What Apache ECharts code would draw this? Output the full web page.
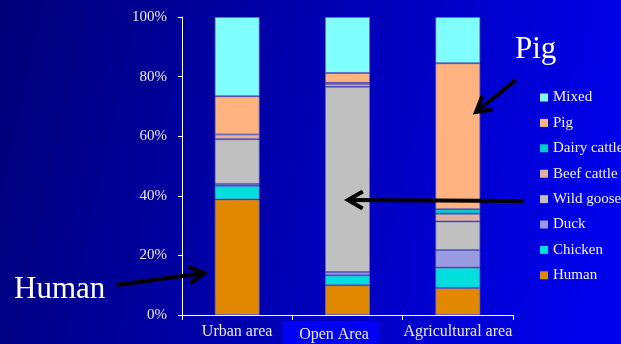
<!DOCTYPE html>
<html>
<head>
<meta charset="utf-8">
<script src="https://cdn.jsdelivr.net/npm/echarts@6/dist/echarts.min.js"></script>
<style>html,body{margin:0;padding:0;}#c{width:621px;height:344px;}</style>
</head>
<body>
<div id="c"></div>
<script>
var categories = ['Urban area', 'Open Area', 'Agricultural area'];
var yTicks = [0, 20, 40, 60, 80, 100];
var human = [38.8, 10.0, 9.1];
var chicken = [4.6, 3.3, 6.8];
var duck = [0.6, 1.1, 5.9];
var wildGoose = [15.0, 62.2, 9.6];
var beefCattle = [1.6, 1.0, 2.6];
var dairyCattle = [0.0, 0.3, 1.5];
var pig = [12.8, 3.3, 49.0];
var mixed = [26.6, 18.8, 15.5];

var seriesNames = ['Human', 'Chicken', 'Duck', 'Wild goose', 'Beef cattle', 'Dairy cattle', 'Pig', 'Mixed'];
var seriesData = [human, chicken, duck, wildGoose, beefCattle, dairyCattle, pig, mixed];
var seriesColors = ['#e08800', '#00dede', '#9a9ae0', '#c0c0c0', '#e3b09b', '#00cccc', '#ffb380', '#80ffff'];

var FONT = '"Liberation Serif", "Times New Roman", serif';
var TXT = '#e8e8f4';

function arrow(tail, tip, len, ang) {
  var dx = tail[0] - tip[0], dy = tail[1] - tip[1];
  var d = Math.sqrt(dx * dx + dy * dy);
  dx /= d; dy /= d;
  var a = ang * Math.PI / 180;
  function rot(s) {
    var c = Math.cos(s * a), n = Math.sin(s * a);
    return [tip[0] + len * (dx * c - dy * n), tip[1] + len * (dx * n + dy * c)];
  }
  var st = {stroke: '#000', lineWidth: 4, fill: null, lineCap: 'butt', lineJoin: 'miter'};
  return [
    {type: 'polyline', z: 100, shape: {points: [tail, tip]}, style: st},
    {type: 'polyline', z: 100, shape: {points: [rot(1), tip, rot(-1)]}, style: st}
  ];
}

var chart = echarts.init(document.getElementById('c'));
var series = seriesNames.map(function (n, i) {
  return {
    name: n, type: 'bar', stack: 'all', data: seriesData[i], barWidth: 45,
    itemStyle: {color: seriesColors[i], borderColor: 'rgba(110,110,190,0.7)', borderWidth: 1}
  };
});

var graphics = [
  {type: 'rect', z: -1, shape: {x: 283, y: 321, width: 96, height: 23}, style: {fill: '#0000f4'}},
  {type: 'rect', z: -1, shape: {x: 379, y: 321, width: 16, height: 23}, style: {fill: '#0000c6'}},
  {type: 'text', z: 100, x: 515, y: 50, style: {text: 'Pig', font: '31px ' + FONT, fill: '#ffffff', verticalAlign: 'middle'}},
  {type: 'text', z: 100, x: 14, y: 290, style: {text: 'Human', font: '31px ' + FONT, fill: '#ffffff', verticalAlign: 'middle'}}
].concat(arrow([516, 80], [476, 112], 17, 30))
 .concat(arrow([524, 201], [348, 200], 17, 30))
 .concat(arrow([117, 285], [204, 273], 17, 30));

chart.setOption({
  animation: false,
  backgroundColor: {
    type: 'linear', x: 0, y: 0, x2: 1, y2: 0.4,
    colorStops: [{offset: 0, color: '#000078'}, {offset: 1, color: '#0000ea'}]
  },
  grid: {left: 182, right: 108, top: 17, bottom: 29},
  legend: {
    orient: 'vertical', left: 535, top: 85,
    data: seriesNames.slice().reverse(),
    icon: 'rect', itemWidth: 8, itemHeight: 8, itemGap: 10.4, itemTextGap: 4,
    itemStyle: {borderWidth: 0},
    textStyle: {color: '#f0f0ff', fontFamily: FONT, fontSize: 15}
  },
  xAxis: {
    type: 'category', data: categories,
    axisLine: {lineStyle: {color: '#ffffff', width: 1}},
    axisTick: {show: true, length: 5, lineStyle: {color: '#ffffff'}},
    axisLabel: {
      interval: 0, hideOverlap: false,
      color: TXT, fontFamily: FONT, fontSize: 16, margin: 9,
      formatter: function (v) { return v === 'Open Area' ? '{o|' + v + '}' : v; },
      rich: {o: {color: TXT, fontFamily: FONT, fontSize: 16, padding: [3, 27, 0, 0]}}
    }
  },
  yAxis: {
    type: 'value', min: yTicks[0], max: yTicks[yTicks.length - 1], interval: 20,
    axisLine: {show: true, lineStyle: {color: '#ffffff', width: 1}},
    axisTick: {show: true, length: 4, lineStyle: {color: '#ffffff'}},
    splitLine: {show: false},
    axisLabel: {color: TXT, fontFamily: FONT, fontSize: 15, margin: 15, formatter: '{value}%'}
  },
  series: series,
  graphic: graphics
});
</script>
</body>
</html>
